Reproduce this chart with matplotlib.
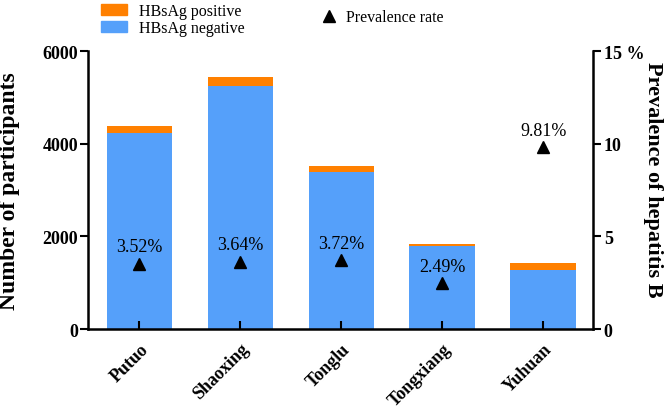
import matplotlib
matplotlib.use("Agg")
import matplotlib.pyplot as plt
from matplotlib.patches import Patch
from matplotlib.lines import Line2D

# data
regions = ["Putuo", "Shaoxing", "Tonglu", "Tongxiang", "Yuhuan"]
negative = [4226, 5241, 3394, 1789, 1284]
positive = [154, 198, 131, 46, 140]
prevalence = [3.52, 3.64, 3.72, 2.49, 9.81]

plt.rcParams['font.family'] = ['Liberation Serif', 'DejaVu Serif']

BLUE = '#55A0FA'
ORANGE = '#FF8000'

fig = plt.figure(figsize=(6.66, 4.10), dpi=100)
ax = fig.add_axes([0.132, 0.195, 0.758, 0.678])

x = list(range(len(regions)))
ax.bar(x, negative, width=0.65, color=BLUE, zorder=1)
ax.bar(x, positive, width=0.65, bottom=negative, color=ORANGE, zorder=1)

ax.set_xlim(-0.51, 4.49)
ax.set_ylim(0, 6000)
ax.set_yticks([0, 2000, 4000, 6000])
ax.set_xticks(x)
ax.set_xticklabels(regions, rotation=45, ha='right', rotation_mode='anchor',
                   fontsize=13, fontweight='bold')
for lab in ax.get_yticklabels():
    lab.set_fontweight('bold')
    lab.set_fontsize(13)
ax.tick_params(axis='x', direction='in', length=6, width=1.5, pad=8)
ax.tick_params(axis='y', direction='out', length=6, width=1.5, pad=1)
ax.spines['top'].set_visible(False)
ax.spines['right'].set_visible(False)
for s in ['left', 'bottom']:
    ax.spines[s].set_linewidth(1.8)
ax.set_ylabel('Number of participants', fontsize=17, fontweight='bold',
              va='center', ha='center')
ax.yaxis.set_label_coords(-0.156, 0.5)

ax2 = ax.twinx()
ax2.set_ylim(0, 15)
ax2.set_yticks([0, 5, 10, 15])
ax2.set_yticklabels(['0', '5', '10', '15 %'], fontsize=13, fontweight='bold')
ax2.tick_params(axis='y', direction='out', length=6, width=1.5, pad=2)
for s in ['top', 'left', 'bottom']:
    ax2.spines[s].set_visible(False)
ax2.spines['right'].set_linewidth(1.8)
ax2.set_ylabel('Prevalence of hepatitis B', fontsize=16, fontweight='bold',
               rotation=270, va='center', ha='center')
ax2.yaxis.set_label_coords(1.12, 0.54)

ax2.plot(x, prevalence, linestyle='none', marker='^', color='black', markersize=8.5, zorder=3)
for xi, p in zip(x, prevalence):
    ax2.annotate(f'{p:.2f}%', (xi, p), xytext=(0, 6), textcoords='offset points',
                 ha='center', va='bottom', fontsize=13)

# legends at the top
h1 = [Patch(color=ORANGE), Patch(color=BLUE)]
fig.legend(h1, ['HBsAg positive', 'HBsAg negative'], loc='upper left',
           bbox_to_anchor=(0.13, 1.025), frameon=False, fontsize=11.5,
           handlelength=1.6, handleheight=0.7, labelspacing=0.05, handletextpad=0.8)
h2 = [Line2D([], [], linestyle='none', marker='^', color='black', markersize=8)]
fig.legend(h2, ['Prevalence rate'], loc='upper left', bbox_to_anchor=(0.46, 1.01),
           frameon=False, fontsize=11.5, handlelength=1.0, handletextpad=0.6)

fig.savefig('out.png', dpi=100)
